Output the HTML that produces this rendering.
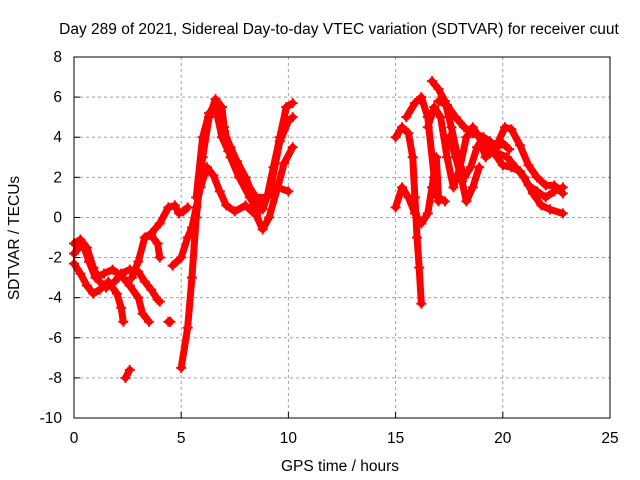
<!DOCTYPE html>
<html><head><meta charset="utf-8"><style>
body{margin:0;background:#fff;}
svg{display:block;font-family:"Liberation Sans",sans-serif;font-size:15.5px;}
</style></head><body>
<svg id="chart" width="640" height="480">
<rect width="640" height="480" fill="#fff"/>
<text x="339" y="34" text-anchor="middle">Day 289 of 2021, Sidereal Day-to-day VTEC variation (SDTVAR) for receiver cuut</text>
<text x="340" y="471" text-anchor="middle">GPS time / hours</text>
<text transform="translate(19,238) rotate(-90)" text-anchor="middle">SDTVAR / TECUs</text>
<g id="grid"></g>
<g id="ticks"></g>
<g id="series"></g>
<rect x="74" y="57" width="536" height="361" fill="none" stroke="#000" stroke-width="1"/>
</svg>
<script>
const xTicks=[0,5,10,15,20,25];
const yTicks=[-10,-8,-6,-4,-2,0,2,4,6,8];
const track1=[[0,-1.3],[0.3,-1.1],[0.6,-1.5],[0.9,-2.5],[1.2,-3.2],[1.5,-3.5],[1.9,-3.2],[2.2,-2.8],[2.6,-2.6],[3.0,-2.7],[3.3,-3.2],[3.6,-3.6],[3.9,-4.1],[4.0,-4.2]];
const track2=[[0,-2.3],[0.3,-2.8],[0.6,-3.4],[0.9,-3.8],[1.2,-3.6],[1.6,-3.2],[2.0,-3.8],[2.2,-4.5],[2.3,-5.2]];
const track3=[[0,-1.8],[0.4,-1.3],[0.7,-2.2],[1.0,-3.0],[1.4,-2.8],[1.8,-2.6],[2.2,-2.9],[2.6,-3.4],[3.0,-4.0],[3.2,-4.8],[3.5,-5.2]];
const track4=[[2.7,-3.0],[3.0,-2.2],[3.3,-1.0],[3.6,-0.9],[3.9,-1.3],[4.0,-2.0]];
const track5=[[3.3,-1.0],[3.6,-0.8],[4.0,-0.3],[4.4,0.5],[4.7,0.6],[4.9,0.2],[5.1,0.3],[5.3,0.5]];
const track6=[[5.0,-7.5],[5.3,-5.5],[5.5,-3],[5.7,0],[6.0,3],[6.3,5],[6.6,5.9],[6.9,5.5],[7.0,4.5],[7.3,3],[7.7,2],[8.2,1],[8.6,0.3],[9.0,1],[9.3,2.5],[9.6,4],[9.9,5.5],[10.2,5.7]];
const track7=[[4.6,-2.4],[5.0,-2.0],[5.3,-1],[5.5,-0.5],[5.7,0.5],[5.9,1.5],[6.2,2.5],[6.5,2.1],[6.8,1.3],[7.1,0.6],[7.5,0.3],[8.0,0.6],[8.5,0.1],[8.8,-0.6],[9.1,0],[9.5,1.5],[9.8,2.7],[10.2,3.5]];
const track8=[[5.7,1.0],[6.0,4],[6.3,5.2],[6.6,5.5],[6.9,4.0],[7.2,3.3],[7.6,2.5],[8.0,1.8],[8.5,1.0],[9.0,1.0],[9.5,1.5],[10.0,1.3]];
const track9=[[7.0,4.3],[7.3,3.5],[7.6,2.8],[8.0,2.0],[8.4,1.0],[8.8,0.4],[9.2,1.6],[9.6,3.8],[10.0,4.8],[10.2,5.0]];
const track10=[[2.4,-8.0],[2.6,-7.6]];
const track11=[[4.4,-5.2],[4.5,-5.2]];
const track12=[[15.0,4.0],[15.3,4.5],[15.6,4.2],[15.8,3.0],[15.9,1],[16.0,-1],[16.1,-2.5],[16.2,-4.3]];
const track13=[[15.0,0.5],[15.3,1.5],[15.6,1.0],[15.9,0.2],[16.2,-0.3],[16.5,0.2],[16.7,1.5],[16.9,3],[17.0,1.0],[17.3,0.8]];
const track14=[[15.5,5.0],[15.9,5.7],[16.2,6.0],[16.5,5.0],[16.8,2.0],[17.0,0.8]];
const track15=[[16.7,6.8],[17.0,6.4],[17.3,5.8],[17.6,4.5],[17.9,3.0],[18.2,2.0],[18.5,2.5],[18.8,3.5],[19.1,4.0],[19.4,3.8],[19.7,3.5],[20.0,3.7],[20.3,3.4]];
const track16=[[16.5,4.5],[16.8,5.5],[17.1,5.0],[17.4,3.0],[17.7,1.5],[18.0,2.5],[18.3,4.0],[18.6,4.5],[18.9,4.0],[19.2,3.0],[19.5,3.3],[19.8,3.8],[20.1,4.5],[20.4,4.4],[20.8,3.6],[21.2,2.6],[21.6,2.0],[22.0,1.6],[22.4,1.6],[22.8,1.2]];
const track17=[[17.0,5.8],[17.4,5.6],[17.8,5.0],[18.2,4.5],[18.6,4.2],[19.0,4.0],[19.4,3.2],[19.8,3.2],[20.2,3.0],[20.6,2.5],[21.0,2.0],[21.4,1.2],[21.8,0.6],[22.2,0.4],[22.8,0.2]];
const track18=[[19.6,3.2],[20.0,2.6],[20.4,2.5],[20.8,2.3],[21.2,1.6],[21.6,1.3],[22.0,1.0],[22.4,1.3],[22.8,1.5]];
const track19=[[17.5,4],[17.8,3],[18.1,1.8],[18.3,0.8],[18.6,1.5],[18.9,2.5]];
const tracks=[track1,track2,track3,track4,track5,track6,track7,track8,track9,track10,track11,track12,track13,track14,track15,track16,track17,track18,track19];

const X0=74,X1=610,Y0=418,Y1=57;
function xs(t){return X0+(t-0)/(25-0)*(X1-X0);}
function ys(v){return Y0-(v-(-10))/(8-(-10))*(Y0-Y1);}
const NS="http://www.w3.org/2000/svg";
const grid=document.getElementById('grid'),ticks=document.getElementById('ticks'),ser=document.getElementById('series');
function mk(tag,attrs,parent){const e=document.createElementNS(NS,tag);for(const k in attrs)e.setAttribute(k,attrs[k]);parent.appendChild(e);return e;}
xTicks.forEach(t=>{
  const x=xs(t);
  if(t>0&&t<25){const g=mk('line',{x1:x,x2:x,y1:Y1,y2:Y0,stroke:'#a0a0a0','stroke-dasharray':'3,3'},grid);
  
  }
  mk('line',{x1:x,x2:x,y1:Y0,y2:Y0-6,stroke:'#000'},ticks);
  const l=mk('text',{x:x,y:Y0+25,'text-anchor':'middle'},ticks);l.textContent=t;
  
  
});
yTicks.forEach(v=>{
  const y=ys(v);
  if(v>-10&&v<8){const g=mk('line',{x1:X0,x2:X1,y1:y,y2:y,stroke:'#a0a0a0','stroke-dasharray':'3,3'},grid);
  
  }
  mk('line',{x1:X0,x2:X0+6,y1:y,y2:y,stroke:'#000'},ticks);
  const l=mk('text',{x:X0-12,y:y+5,'text-anchor':'end'},ticks);l.textContent=v;
  
  
});
tracks.forEach(tr=>{
  const pts=tr.map(p=>xs(p[0])+','+ys(p[1])).join(' ');
  const pl=mk('polyline',{points:pts,fill:'none',stroke:'#ff0000','stroke-width':7,'stroke-linejoin':'round','stroke-linecap':'round'},ser);
  
  
  tr.forEach(p=>{
    const x=xs(p[0]),y=ys(p[1]);
    const m=mk('path',{d:`M${x-5},${y}H${x+5}M${x},${y-5}V${y+5}`,stroke:'#ff0000','stroke-width':2},ser);
    
    
  });
});
</script>
</body></html>
